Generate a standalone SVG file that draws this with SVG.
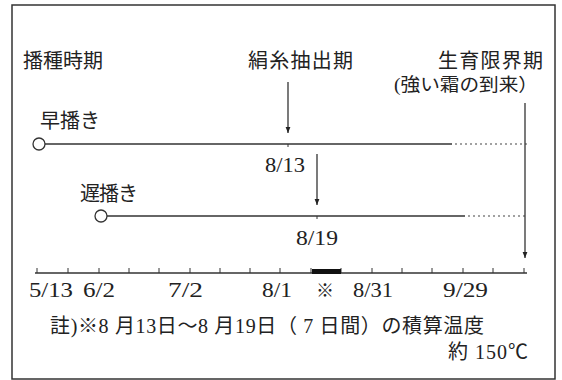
<svg xmlns="http://www.w3.org/2000/svg" width="562" height="380" viewBox="0 0 562 380">
<defs>
<style>
.t{font-family:"Liberation Serif","Noto Sans CJK JP",serif;fill:#222;}
.j{font-size:20px;}
.n{font-size:21px;}
.ln{stroke:#333;stroke-width:1.3;fill:none;}
.dot{stroke:#444;stroke-width:1.2;stroke-dasharray:2 3;fill:none;}
.tk{stroke:#333;stroke-width:1;}
.cir{fill:#fff;stroke:#333;stroke-width:1.3;}
</style>
<marker id="ah" viewBox="0 0 10 10" refX="10" refY="5" markerWidth="6" markerHeight="6" orient="auto" markerUnits="userSpaceOnUse">
<path d="M0,1 L10,5 L0,9 Z" fill="#222"/>
</marker>
</defs>
<rect x="0" y="0" width="562" height="380" fill="#fff"/>
<rect x="12" y="5" width="543" height="374" fill="none" stroke="#333" stroke-width="1.5"/>

<g id="labels">
<text class="t j" x="23" y="68" textLength="80" lengthAdjust="spacing">播種時期</text>
<text class="t j" x="248" y="68" textLength="105" lengthAdjust="spacing">絹糸抽出期</text>
<text class="t j" x="438" y="68" textLength="105" lengthAdjust="spacing">生育限界期</text>
<text class="t" x="394" y="91" font-size="18" textLength="144" lengthAdjust="spacingAndGlyphs">(強い霜の到来）</text>
</g>

<g id="early">
<text class="t j" x="40" y="128" textLength="60" lengthAdjust="spacing">早播き</text>
<circle class="cir" cx="39" cy="144" r="6"/>
</g>
<g id="late">
<text class="t j" x="80" y="201" textLength="58" lengthAdjust="spacing">遅播き</text>
<circle class="cir" cx="101" cy="216" r="6"/>
</g>

<g id="connectors">
<line class="ln" x1="45" y1="144" x2="452" y2="144"/>
<line class="dot" x1="455" y1="144" x2="529" y2="144"/>
<line class="ln" x1="107" y1="216" x2="465" y2="216"/>
<line class="dot" x1="468" y1="216" x2="527" y2="216"/>
<line class="ln" x1="288" y1="82" x2="288" y2="133" marker-end="url(#ah)"/>
<line class="ln" x1="317" y1="154" x2="317" y2="205" marker-end="url(#ah)"/>
<line class="ln" x1="525" y1="103" x2="525" y2="258" marker-end="url(#ah)"/>
<line class="tk" x1="288" y1="144" x2="288" y2="147"/>
<line class="tk" x1="317" y1="216" x2="317" y2="219"/>
</g>

<g id="dates">
<text class="t n" x="265" y="172" textLength="40" lengthAdjust="spacingAndGlyphs">8/13</text>
<text class="t n" x="296" y="245" textLength="42" lengthAdjust="spacingAndGlyphs">8/19</text>
</g>

<g id="axis">
<line class="ln" x1="35" y1="273" x2="527" y2="273"/>
<g class="tk">
<line x1="37" y1="268" x2="37" y2="273"/>
<line x1="68" y1="268" x2="68" y2="273"/>
<line x1="99" y1="268" x2="99" y2="273"/>
<line x1="129" y1="268" x2="129" y2="273"/>
<line x1="159" y1="268" x2="159" y2="273"/>
<line x1="190" y1="268" x2="190" y2="273"/>
<line x1="220" y1="268" x2="220" y2="273"/>
<line x1="250" y1="268" x2="250" y2="273"/>
<line x1="280" y1="268" x2="280" y2="273"/>
<line x1="311" y1="268" x2="311" y2="273"/>
<line x1="341" y1="268" x2="341" y2="273"/>
<line x1="372" y1="268" x2="372" y2="273"/>
<line x1="402" y1="268" x2="402" y2="273"/>
<line x1="432" y1="268" x2="432" y2="273"/>
<line x1="463" y1="268" x2="463" y2="273"/>
<line x1="493" y1="268" x2="493" y2="273"/>
<line x1="524" y1="268" x2="524" y2="273"/>
</g>
<rect x="312" y="269" width="29" height="5" fill="#111"/>
<text class="t n" x="29" y="297" textLength="44" lengthAdjust="spacingAndGlyphs">5/13</text>
<text class="t n" x="83" y="297" textLength="32" lengthAdjust="spacingAndGlyphs">6/2</text>
<text class="t n" x="168" y="297" textLength="35" lengthAdjust="spacingAndGlyphs">7/2</text>
<text class="t n" x="262" y="297" textLength="30" lengthAdjust="spacingAndGlyphs">8/1</text>
<text class="t" x="325" y="297" text-anchor="middle" font-size="18">※</text>
<text class="t n" x="353" y="297" textLength="40" lengthAdjust="spacingAndGlyphs">8/31</text>
<text class="t n" x="443" y="297" textLength="45" lengthAdjust="spacingAndGlyphs">9/29</text>
</g>

<g id="note">
<text class="t" x="50" y="333" font-size="20" textLength="434" lengthAdjust="spacing">註)※8 月13日～8 月19日（ 7 日間）の積算温度</text>
<text class="t" x="448" y="359" font-size="20" textLength="80" lengthAdjust="spacing">約 150℃</text>
</g>
</svg>
